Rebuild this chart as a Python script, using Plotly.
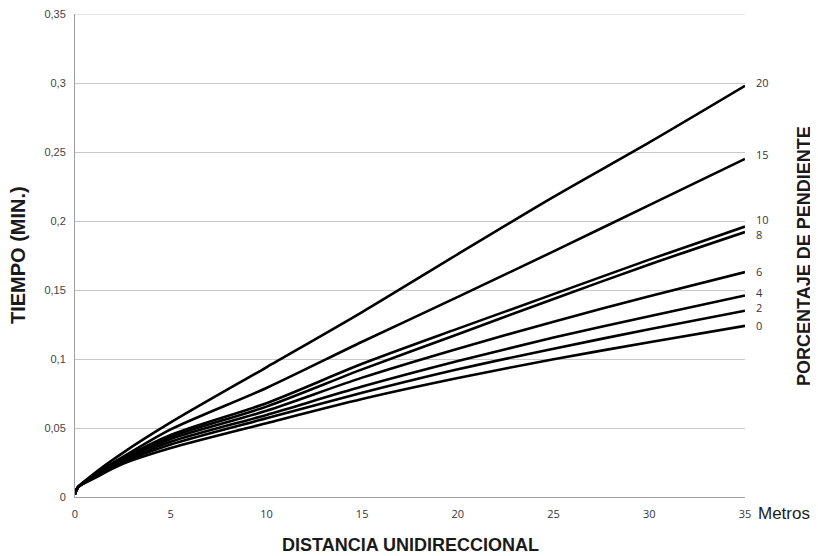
import plotly.graph_objects as go

# Distance (m)
distancia = [0, 0.15, 1, 2.5, 5, 10, 15, 20, 25, 30, 35]

# Slope percentage series -> time (min)
pendientes = ["0", "2", "4", "6", "8", "10", "15", "20"]
t_0 = [0.002, 0.007, 0.0135, 0.024, 0.0355, 0.0535, 0.0710, 0.0862, 0.0998, 0.1122, 0.124]
t_2 = [0.002, 0.007, 0.0140, 0.025, 0.0380, 0.0570, 0.0755, 0.0925, 0.1075, 0.1215, 0.135]
t_4 = [0.002, 0.007, 0.0145, 0.026, 0.0400, 0.0595, 0.0800, 0.0985, 0.1155, 0.1310, 0.146]
t_6 = [0.002, 0.007, 0.0148, 0.027, 0.0420, 0.0625, 0.0865, 0.1075, 0.1270, 0.1455, 0.163]
t_8 = [0.002, 0.007, 0.0150, 0.0275, 0.0435, 0.0655, 0.0925, 0.1180, 0.1435, 0.1685, 0.192]
t_10 = [0.002, 0.007, 0.0155, 0.028, 0.0450, 0.0680, 0.0965, 0.1220, 0.1470, 0.1720, 0.196]
t_15 = [0.002, 0.007, 0.0160, 0.029, 0.0490, 0.0790, 0.1125, 0.1450, 0.1780, 0.2115, 0.245]
t_20 = [0.002, 0.007, 0.0170, 0.032, 0.0540, 0.0940, 0.1340, 0.1760, 0.2175, 0.2570, 0.298]
series = [t_0, t_2, t_4, t_6, t_8, t_10, t_15, t_20]

x_ticks = [0, 5, 10, 15, 20, 25, 30, 35]
y_ticks = [0, 0.05, 0.1, 0.15, 0.2, 0.25, 0.3, 0.35]
y_ticktext = ["0", "0,05", "0,1", "0,15", "0,2", "0,25", "0,3", "0,35"]

fig = go.Figure()
for name, ys in zip(pendientes, series):
    fig.add_trace(go.Scatter(x=distancia, y=ys, mode="lines", name=name,
                             line=dict(color="black", width=2.6, shape="spline", smoothing=0.8),
                             showlegend=False, hoverinfo="skip", cliponaxis=False))

# top gridline (at the last y tick)
fig.add_shape(type="line", xref="paper", x0=0, x1=1, yref="y", y0=y_ticks[-1], y1=y_ticks[-1],
              line=dict(color="#c8c8c8", width=1), layer="below")

label_shift = {"20": 3, "15": 4, "10": 7, "8": -2, "6": 1, "4": 3, "2": 3, "0": 0}
for name, ys in zip(pendientes, series):
    fig.add_annotation(x=35, y=ys[-1], text=name, showarrow=False, xanchor="left",
                       xshift=9, yshift=label_shift.get(name, 0),
                       font=dict(family="Open Sans", size=11, color="#333340"))

fig.add_annotation(x=35, y=0, text="Metros", showarrow=False, xanchor="left", yanchor="middle",
                   xshift=11, yshift=-16, font=dict(family="Liberation Sans", size=17, color="#222"))

fig.add_annotation(xref="paper", yref="paper", x=0.5, y=-0.0994, yanchor="middle",
                   text="<b>DISTANCIA UNIDIRECCIONAL</b>", showarrow=False,
                   font=dict(family="Liberation Sans", size=18, color="#1a1a1a"))
fig.add_annotation(xref="paper", yref="paper", x=-0.085, y=0.501, textangle=-90,
                   text="<b>TIEMPO (MIN.)</b>", showarrow=False, xanchor="center", yanchor="middle",
                   font=dict(family="Liberation Sans", size=20, color="#1a1a1a"))
fig.add_annotation(xref="paper", yref="paper", x=1.088, y=0.499, textangle=-90,
                   text="<b>PORCENTAJE DE PENDIENTE</b>", showarrow=False, xanchor="center", yanchor="middle",
                   font=dict(family="Liberation Sans", size=18, color="#1a1a1a"))

fig.update_layout(
    width=810, height=548,
    margin=dict(l=67, r=73, t=6, b=59, autoexpand=False),
    paper_bgcolor="white", plot_bgcolor="white",
    xaxis=dict(range=[0, 35.0001], tickvals=x_ticks, showgrid=False, zeroline=False,
               showline=True, linecolor="#a0a0a0", linewidth=1, ticks="",
               ticklabelstandoff=7, ticklabeloverflow="allow", automargin=False,
               tickfont=dict(family="Open Sans", size=11, color="#333340")),
    yaxis=dict(range=[0, 0.35001], tickvals=y_ticks, ticktext=y_ticktext, showgrid=True,
               gridcolor="#c8c8c8", gridwidth=1, zeroline=False,
               showline=True, linecolor="#a0a0a0", linewidth=1, ticks="",
               ticklabelstandoff=6, ticklabeloverflow="allow", automargin=False,
               tickfont=dict(family="Liberation Sans", size=11, color="#444")),
)

fig.write_html("out.html")
